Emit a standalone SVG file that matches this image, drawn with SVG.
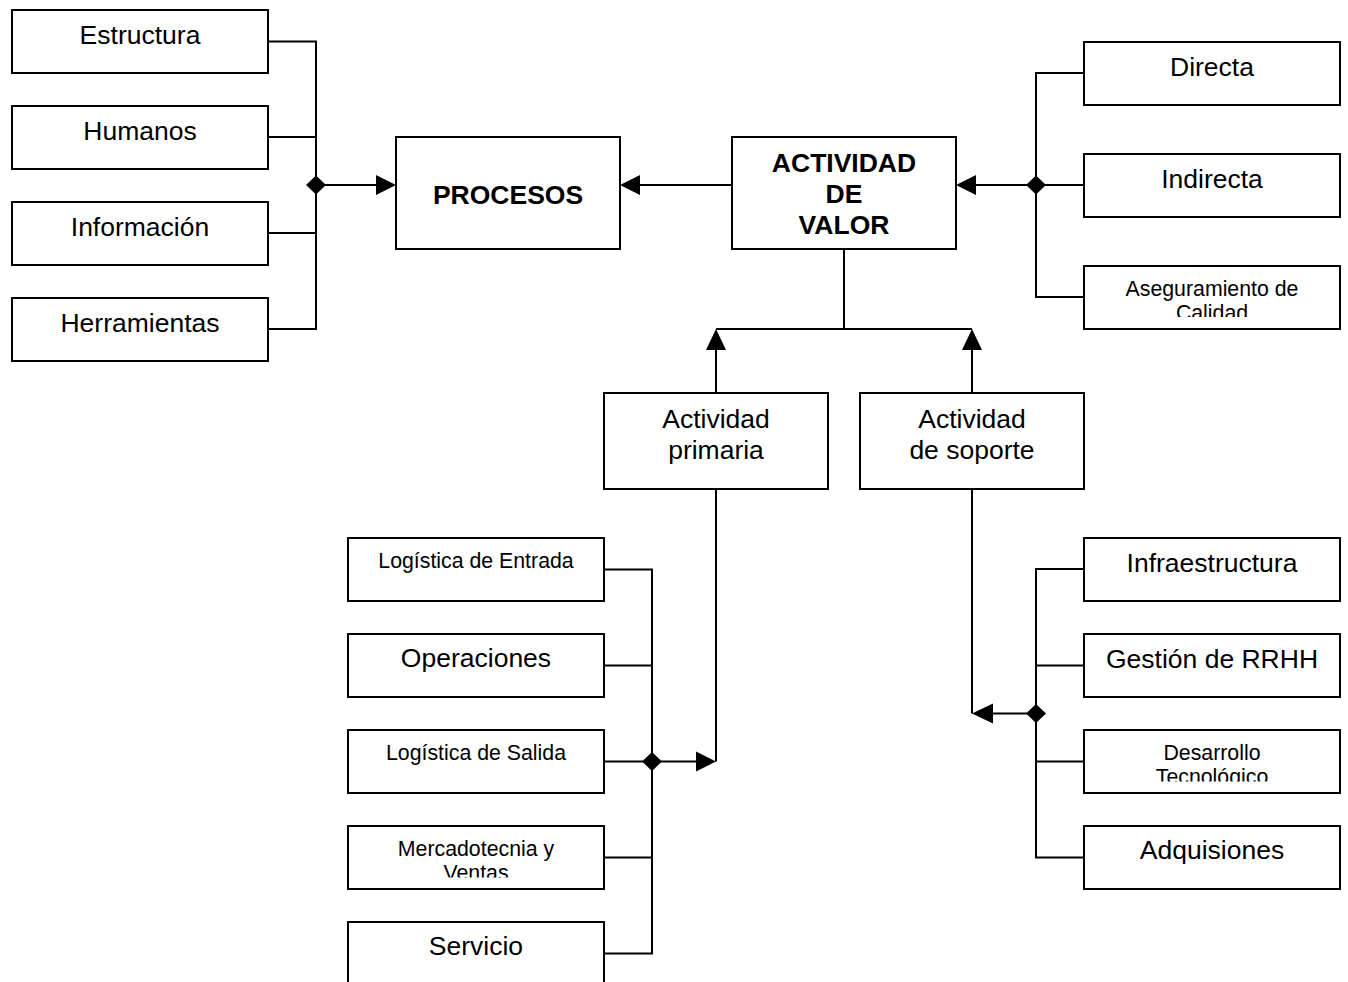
<svg xmlns="http://www.w3.org/2000/svg" width="1348" height="982" viewBox="0 0 1348 982">
  <style>
    .box { fill: #ffffff; stroke: #000000; stroke-width: 2; }
    .ln { fill: none; stroke: #000000; stroke-width: 2; }
    .tip { fill: #000000; stroke: none; }
    .t { font-family: "Liberation Sans", Arial, sans-serif; font-size: 26.5px; fill: #000000; text-anchor: middle; }
    .s { font-family: "Liberation Sans", Arial, sans-serif; font-size: 21.3px; fill: #000000; text-anchor: middle; }
    .b { font-weight: bold; }
  </style>
  <defs>
    <!-- text areas that cut off overflowing second lines -->
    <clipPath id="clipAseg"><rect x="1084" y="266" width="256" height="51"/></clipPath>
    <clipPath id="clipMerc"><rect x="348" y="826" width="256" height="51.5"/></clipPath>
    <clipPath id="clipDes"><rect x="1084" y="730" width="256" height="51.5"/></clipPath>
  </defs>
  <rect width="1348" height="982" fill="#ffffff"/>

  <!-- connectors -->
  <g id="connectors">
    <!-- resources into PROCESOS -->
    <path class="ln" d="M268 41.5 H316 V329 H268 M268 137 H316 M268 233 H316 M316 185 H378"/>
    <polygon class="tip" points="396,185 376,175 376,195"/>
    <polygon class="tip" points="316,175.5 326,185 316,194.5 306,185"/>
    <!-- value activity into PROCESOS -->
    <path class="ln" d="M732 185 H638"/>
    <polygon class="tip" points="620,185 640,175 640,195"/>
    <!-- cost types into value activity -->
    <path class="ln" d="M1084 73 H1036 V297 H1084 M1084 185 H974"/>
    <polygon class="tip" points="956,185 976,175 976,195"/>
    <polygon class="tip" points="1036,175.5 1046,185 1036,194.5 1026,185"/>
    <!-- primary / support into value activity -->
    <path class="ln" d="M844 249 V329 M716 329 H972 M716 393 V347 M972 393 V347"/>
    <polygon class="tip" points="716,329 706,350 726,350"/>
    <polygon class="tip" points="972,329 962,350 982,350"/>
    <!-- primary activities -->
    <path class="ln" d="M604 569.5 H652 V953.5 H604 M604 665.5 H652 M604 761.5 H652 M604 857.5 H652 M652 761.5 H698 M716 489 V761.5"/>
    <polygon class="tip" points="716,761.5 696,751.5 696,771.5"/>
    <polygon class="tip" points="652,752 662,761.5 652,771 642,761.5"/>
    <!-- support activities -->
    <path class="ln" d="M1084 569 H1036 V857.5 H1084 M1084 665.5 H1036 M1084 761.5 H1036 M1036 713.5 H990 M972 489 V713.5"/>
    <polygon class="tip" points="972,713.5 993,703.5 993,723.5"/>
    <polygon class="tip" points="1036,704 1046,713.5 1036,723 1026,713.5"/>
  </g>

  <!-- resources -->
  <g id="estructura">
    <rect class="box" x="12" y="10" width="256" height="63"/>
    <text class="t" x="140" y="43.5">Estructura</text>
  </g>
  <g id="humanos">
    <rect class="box" x="12" y="106" width="256" height="63"/>
    <text class="t" x="140" y="139.5">Humanos</text>
  </g>
  <g id="informacion">
    <rect class="box" x="12" y="202" width="256" height="63"/>
    <text class="t" x="140" y="235.5">Información</text>
  </g>
  <g id="herramientas">
    <rect class="box" x="12" y="298" width="256" height="63"/>
    <text class="t" x="140" y="331.5">Herramientas</text>
  </g>

  <!-- central nodes -->
  <g id="procesos">
    <rect class="box" x="396" y="137" width="224" height="112"/>
    <text class="t b" x="508" y="204">PROCESOS</text>
  </g>
  <g id="actividad-valor">
    <rect class="box" x="732" y="137" width="224" height="112"/>
    <text class="t b" x="844" y="171.5">ACTIVIDAD</text>
    <text class="t b" x="844" y="202.5">DE</text>
    <text class="t b" x="844" y="233.5">VALOR</text>
  </g>

  <!-- cost types -->
  <g id="directa">
    <rect class="box" x="1084" y="42" width="256" height="63"/>
    <text class="t" x="1212" y="76">Directa</text>
  </g>
  <g id="indirecta">
    <rect class="box" x="1084" y="154" width="256" height="63"/>
    <text class="t" x="1212" y="188">Indirecta</text>
  </g>
  <g id="aseguramiento">
    <rect class="box" x="1084" y="266" width="256" height="63"/>
    <g clip-path="url(#clipAseg)">
      <text class="s" x="1212" y="296">Aseguramiento de</text>
      <text class="s" x="1212" y="320">Calidad</text>
    </g>
  </g>

  <!-- activity groups -->
  <g id="actividad-primaria">
    <rect class="box" x="604" y="393" width="224" height="96"/>
    <text class="t" x="716" y="428">Actividad</text>
    <text class="t" x="716" y="458.5">primaria</text>
  </g>
  <g id="actividad-soporte">
    <rect class="box" x="860" y="393" width="224" height="96"/>
    <text class="t" x="972" y="428">Actividad</text>
    <text class="t" x="972" y="458.5">de soporte</text>
  </g>

  <!-- primary activities -->
  <g id="logistica-entrada">
    <rect class="box" x="348" y="538" width="256" height="63"/>
    <text class="s" x="476" y="568">Logística de Entrada</text>
  </g>
  <g id="operaciones">
    <rect class="box" x="348" y="634" width="256" height="63"/>
    <text class="t" x="476" y="667">Operaciones</text>
  </g>
  <g id="logistica-salida">
    <rect class="box" x="348" y="730" width="256" height="63"/>
    <text class="s" x="476" y="760">Logística de Salida</text>
  </g>
  <g id="mercadotecnia">
    <rect class="box" x="348" y="826" width="256" height="63"/>
    <g clip-path="url(#clipMerc)">
      <text class="s" x="476" y="856">Mercadotecnia y</text>
      <text class="s" x="476" y="880">Ventas</text>
    </g>
  </g>
  <g id="servicio">
    <rect class="box" x="348" y="922" width="256" height="80"/>
    <text class="t" x="476" y="955">Servicio</text>
  </g>

  <!-- support activities -->
  <g id="infraestructura">
    <rect class="box" x="1084" y="538" width="256" height="63"/>
    <text class="t" x="1212" y="571.5">Infraestructura</text>
  </g>
  <g id="gestion-rrhh">
    <rect class="box" x="1084" y="634" width="256" height="63"/>
    <text class="t" x="1212" y="667.5">Gestión de RRHH</text>
  </g>
  <g id="desarrollo">
    <rect class="box" x="1084" y="730" width="256" height="63"/>
    <g clip-path="url(#clipDes)">
      <text class="s" x="1212" y="760">Desarrollo</text>
      <text class="s" x="1212" y="784">Tecnológico</text>
    </g>
  </g>
  <g id="adquisiones">
    <rect class="box" x="1084" y="826" width="256" height="63"/>
    <text class="t" x="1212" y="859">Adquisiones</text>
  </g>
</svg>
